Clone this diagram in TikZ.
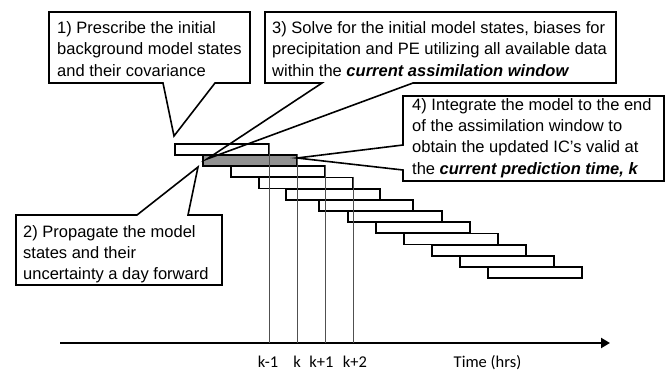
\documentclass[tikz,border=0pt]{standalone}
\usepackage{fontspec}
\setmainfont{Liberation Sans}
\newfontfamily\axisfont{Carlito}
\usetikzlibrary{arrows.meta}
\definecolor{barfill}{RGB}{145,145,145}
\definecolor{guide}{RGB}{80,80,80}
\tikzset{
  boxline/.style={draw=black, line width=1.6pt, line join=miter},
  boxtext/.style={anchor=north west, inner sep=0pt, align=left,
    font=\fontsize{16.5}{21.3}\selectfont},
  bar/.style={draw=black, line width=1.8pt, anchor=north west, inner sep=0pt,
    minimum width=94pt, minimum height=11pt},
  guideline/.style={draw=guide, line width=0.8pt},
  axisline/.style={draw=black, line width=2.2pt, -{Triangle[length=9pt,width=10pt]}},
  axislabel/.style={anchor=base, inner sep=0pt, font=\axisfont\fontsize{16.5}{18}\selectfont}
}
\begin{document}
\begin{tikzpicture}[x=1pt,y=-1pt]
\useasboundingbox (0,0) rectangle (668,370);

% bars
\foreach \i/\x in {0/174,1/202,2/230,3/258,4/285,5/318,6/347,7/375,8/403,9/431,10/459,11/487}{
  \pgfmathsetmacro{\yy}{143+11.2*\i}
  \ifnum\i=1
    \node[bar, fill=barfill] (b\i) at (\x,\yy) {};
  \else
    \node[bar] (b\i) at (\x,\yy) {};
  \fi
}

% axis
\coordinate (axstart) at (60,343);
\coordinate (axend) at (610,343);
\draw[axisline] (axstart) -- (axend);

% guide lines
\foreach \i in {0,1,2,3}{
  \draw[guideline] (b\i.north east) -- (b\i.north east |- axstart);
}

% axis labels
\node[axislabel] (lkm1) at (268,367) {k-1};
\node[axislabel] (lk) at (297,367) {k};
\node[axislabel] (lkp1) at (321.5,367) {k+1};
\node[axislabel] (lkp2) at (355,367) {k+2};
\node[axislabel] (ltime) at (487.5,367) {Time (hrs)};

% callout 1
\coordinate (t1) at (174,136);
\draw[boxline] (49,12) -- (250,12) -- (250,83) -- (215,83) -- (t1) -- (163,83) -- (49,83) -- cycle;
\node[boxtext] (c1) at (57,21.5) {1) Prescribe the initial\\background model states\\and their covariance};

% callout 3
\coordinate (t3) at (207,159);
\draw[boxline] (265,12) -- (616,12) -- (616,83) -- (413,83) -- (t3) -- (322,83) -- (265,83) -- cycle;
\node[boxtext] (c3) at (272,21.5) {3) Solve for the initial model states, biases for\\precipitation and PE utilizing all available data\\within the \textbf{\textit{current assimilation window}}};

% callout 4
\coordinate (t4) at (297,158);
\draw[boxline] (403,96) -- (664,96) -- (664,181) -- (403,181) -- (403,170) -- (t4) -- (403,145) -- cycle;
\node[boxtext] (c4) at (412,98) {4) Integrate the model to the end\\of the assimilation window to\\obtain the updated IC’s valid at\\the \textbf{\textit{current prediction time, k}}};

% callout 2
\coordinate (t2) at (198,167);
\draw[boxline] (16,215) -- (137,215) -- (t2) -- (188,215) -- (222,215) -- (222,285) -- (16,285) -- cycle;
\node[boxtext] (c2) at (23,225) {2) Propagate the model\\states and their\\uncertainty a day forward};
\end{tikzpicture}
\end{document}
